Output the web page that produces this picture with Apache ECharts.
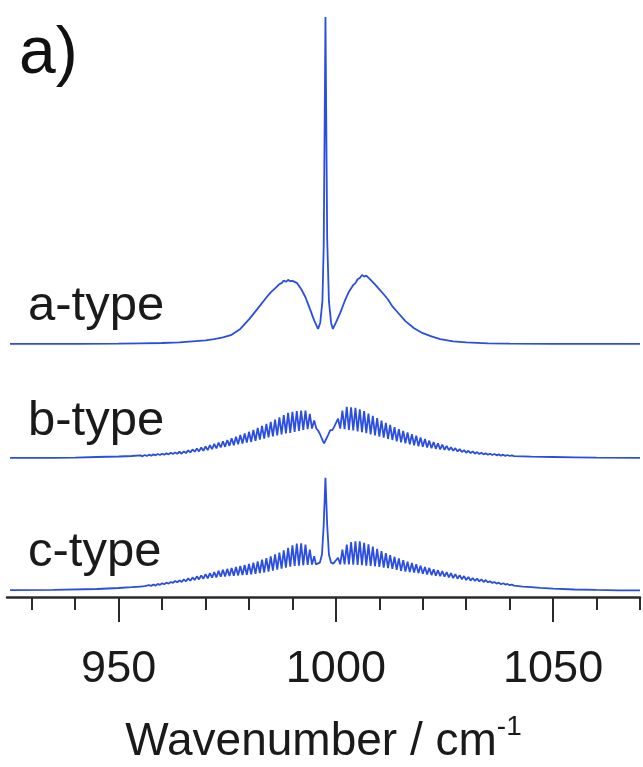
<!DOCTYPE html>
<html>
<head>
<meta charset="utf-8">
<script src="https://cdn.jsdelivr.net/npm/echarts@6/dist/echarts.min.js"></script>
<style>
html,body{margin:0;padding:0;background:#fff;}
#chart{width:643px;height:767px;}
</style>
</head>
<body>
<div id="chart"></div>
<script>
// ---- data: [wavenumber (cm-1), relative intensity] ----
const aType = [
  [925,0],[940,0],[950,0.1],[955,0.2],[960,0.3],[964,0.5],[967,0.8],[970,1.1],[972,1.5],[974,2.0],
  [976,2.8],[978,4.6],[980,7.5],[982,10.8],[984,14.2],[985,15.8],[986,17.0],[987,18.3],[987.5,18.6],[988,19.4],
  [988.5,19.0],[989,19.6],[989.5,19.2],[990,19.3],[991,18.7],[992,16.8],[993,14.3],[994,10.8],[995,7.2],[995.9,4.6],
  [996.4,6.5],[996.9,13],[997.2,30],[997.6,100],[998.0,32],[998.4,13],[998.9,6.5],[999.3,4.6],[1000,6.5],[1001,9.5],
  [1002,13],[1003,16],[1004,18],[1004.5,18.6],[1005,19.8],[1005.5,20.2],[1006,21.1],[1006.5,20.6],[1007,20.9],[1008,19.6],
  [1009,18.2],[1010,16.7],[1011,15.2],[1012,13.6],[1013,11.5],[1014,10],[1016,7],[1018,4.8],[1020,3.3],[1022,2.3],
  [1024,1.5],[1027,0.8],[1030,0.5],[1035,0.2],[1040,0.1],[1050,0],[1060,0],[1070,0]
];

const bType = [
  [925,0],[935,0.05],[940,0.1],[945,0.3],[950,0.45],[953,0.6],
  [955,0.8],[955.5,0.5],[956,0.9],[956.5,0.6],[957,1.0],[957.5,0.7],[958,1.1],[958.5,0.8],[959,1.2],[959.5,0.9],
  [960,1.3],[960.5,1.0],[961,1.4],[961.5,1.1],[962,1.6],[962.5,1.2],[963,1.7],[963.5,1.3],[964,1.9],[964.5,1.3],
  [965,2.0],[965.5,1.5],[966,2.3],[966.5,1.7],[967,2.6],[967.5,1.9],[968,2.9],[968.5,2.0],[969,3.2],[969.5,2.2],
  [970,3.5],[970.5,2.4],[971,3.9],[971.5,2.7],[972,4.3],[972.5,2.9],[973,4.7],[973.5,3.2],[974,5.1],[974.5,3.4],
  [975,5.5],[975.5,3.7],[976,6.0],[976.5,3.9],[977,6.5],[977.5,4.2],[978,7.0],[978.5,4.4],[979,7.5],[979.5,4.7],
  [980,8.0],[980.5,4.9],[981,8.6],[981.5,5.2],[982,9.2],[982.5,5.6],[983,9.8],[983.5,5.9],[984,10.4],[984.5,6.3],
  [985,11.0],[985.5,6.6],[986,11.7],[986.5,6.9],[987,12.4],[987.5,7.2],[988,13.1],[988.5,7.5],[989,13.8],[989.5,7.7],
  [990,14.1],[990.5,8.0],[991,14.3],[991.5,8.3],[992,14.5],[992.5,8.6],[993,14.5],[993.5,8.8],[994,13.5],[994.5,9.0],
  [995,11.5],[995.5,9.0],
  [996,8.2],[996.5,6.8],[997,5.2],[997.3,4.5],[997.7,5.0],[998.2,7.0],[998.7,8.5],[999.2,8.5],[999.6,9.5],
  [1000.5,12],[1001,9.0],[1001.5,14.5],[1002,8.8],[1002.5,15.6],[1003,8.6],[1003.5,15.5],[1004,8.4],[1004.5,15.3],[1005,8.1],
  [1005.5,14.9],[1006,7.9],[1006.5,14.3],[1007,7.6],[1007.5,13.6],[1008,7.2],[1008.5,12.9],[1009,6.9],[1009.5,12.2],[1010,6.5],
  [1010.5,11.4],[1011,6.2],[1011.5,10.7],[1012,5.8],[1012.5,10.1],[1013,5.5],[1013.5,9.4],[1014,5.1],[1014.5,8.8],[1015,4.8],
  [1015.5,8.3],[1016,4.5],[1016.5,7.8],[1017,4.2],[1017.5,7.3],[1018,3.9],[1018.5,6.8],[1019,3.6],[1019.5,6.3],[1020,3.4],
  [1020.5,5.8],[1021,3.2],[1021.5,5.3],[1022,3.0],[1022.5,4.9],[1023,2.8],[1023.5,4.5],[1024,2.6],[1024.5,4.1],[1025,2.5],
  [1025.5,3.7],[1026,2.4],[1026.5,3.3],[1027,2.2],[1027.5,3.0],[1028,2.0],[1028.5,2.7],[1029,1.8],[1029.5,2.4],[1030,1.6],
  [1030.5,2.2],[1031,1.5],[1031.5,2.0],[1032,1.3],[1032.5,1.8],[1033,1.2],[1033.5,1.6],[1034,1.1],[1034.5,1.4],[1035,1.0],
  [1035.5,1.3],[1036,0.9],[1036.5,1.2],[1037,0.8],[1037.5,1.1],[1038,0.7],[1038.5,1.0],[1039,0.65],[1039.5,0.9],[1040,0.6],
  [1040.5,0.8],[1041,0.55],
  [1045,0.4],[1050,0.3],[1055,0.2],[1060,0.1],[1070,0.05]
];

const cType = [
  [925,0.1],[935,0.2],[945,0.45],[950,0.75],[953,1.0],[955,1.2],[956,1.3],
  [957,1.6],[957.5,1.4],[958,1.8],[958.5,1.5],[959,2.0],[959.5,1.7],[960,2.2],[960.5,1.9],[961,2.4],[961.5,2.1],
  [962,2.6],[962.5,2.3],[963,2.9],[963.5,2.5],[964,3.1],[964.5,2.6],[965,3.4],[965.5,2.8],[966,3.7],[966.5,3.0],
  [967,4.0],[967.5,3.2],[968,4.3],[968.5,3.4],[969,4.6],[969.5,3.6],[970,5.0],[970.5,3.7],[971,5.3],[971.5,3.9],
  [972,5.6],[972.5,4.0],[973,6.0],[973.5,4.2],[974,6.3],[974.5,4.3],[975,6.6],[975.5,4.4],[976,6.9],[976.5,4.5],
  [977,7.2],[977.5,4.6],[978,7.5],[978.5,4.7],[979,7.8],[979.5,4.8],[980,8.1],[980.5,4.9],[981,8.5],[981.5,5.1],
  [982,8.9],[982.5,5.3],[983,9.4],[983.5,5.5],[984,9.9],[984.5,5.8],[985,10.4],[985.5,6.1],[986,11.0],[986.5,6.4],
  [987,11.6],[987.5,6.7],[988,12.3],[988.5,7.0],[989,13.0],[989.5,7.3],[990,13.8],[990.5,7.5],[991,14.3],[991.5,7.6],
  [992,14.4],[992.5,7.7],[993,14.0],[993.5,7.8],[994,12.5],[994.5,7.9],[995,10.5],
  [995.4,8.0],[995.8,8.0],[996.3,8.5],[996.8,11],[997.2,20],[997.6,34.5],[998.0,20],[998.4,11],[998.9,8.5],[999.4,8.2],[999.8,8.3],
  [1000.5,10],[1001,8.0],[1001.5,12.5],[1002,8.0],[1002.5,14],[1003,8.0],[1003.5,14.8],[1004,7.9],[1004.5,15.0],[1005,7.8],
  [1005.5,15.0],[1006,7.7],[1006.5,14.6],[1007,7.6],[1007.5,14.1],[1008,7.5],[1008.5,13.4],[1009,7.4],[1009.5,12.7],[1010,7.2],
  [1010.5,12.0],[1011,7.0],[1011.5,11.4],[1012,6.8],[1012.5,10.8],[1013,6.6],[1013.5,10.3],[1014,6.3],[1014.5,9.8],[1015,6.0],
  [1015.5,9.3],[1016,5.8],[1016.5,8.8],[1017,5.6],[1017.5,8.4],[1018,5.5],[1018.5,8.0],[1019,5.3],[1019.5,7.6],[1020,5.1],
  [1020.5,7.2],[1021,4.9],[1021.5,6.9],[1022,4.7],[1022.5,6.5],[1023,4.5],[1023.5,6.2],[1024,4.4],[1024.5,5.9],[1025,4.2],
  [1025.5,5.6],[1026,4.0],[1026.5,5.3],[1027,3.8],[1027.5,5.0],[1028,3.6],[1028.5,4.7],[1029,3.4],[1029.5,4.4],[1030,3.2],
  [1030.5,4.1],[1031,3.0],[1031.5,3.8],[1032,2.9],[1032.5,3.6],[1033,2.8],[1033.5,3.4],[1034,2.6],[1034.5,3.2],[1035,2.5],
  [1035.5,2.8],[1036,2.3],[1036.5,2.6],[1037,2.1],[1037.5,2.4],[1038,1.9],[1038.5,2.2],[1039,1.8],[1039.5,2.0],[1040,1.6],
  [1040.5,1.8],[1041,1.5],
  [1043,1.2],[1045,1.0],[1047,0.8],[1050,0.55],[1055,0.3],[1060,0.15],[1065,0.05],[1070,0]
];

const seriesNames = ['a-type', 'b-type', 'c-type'];
const majorTicks = [950, 1000, 1050];
const minorTicks = [930, 940, 960, 970, 980, 990, 1010, 1020, 1030, 1040, 1060, 1070];
const panelLabel = 'a)';
const axisTitle = 'Wavenumber / cm';
const axisTitleSup = '-1';

// ---- layout ----
const FONT = '"Liberation Sans", Arial, Helvetica, sans-serif';
const LINE = '#2a4de2';
const AXIS = '#2a2a2a';
const X_MIN = 924.3, X_MAX = 1070;
const Y_MIN = -2, Y_MAX = 100;
const GRID_H = 333.5;
const gridBottoms = [350.5, 464.5, 597]; // pixel y of each panel's bottom
const chart = echarts.init(document.getElementById('chart'), null, {renderer: 'canvas'});

const grids = gridBottoms.map(b => ({left: 7, right: 3, top: b - GRID_H, height: GRID_H, containLabel: false}));
const hiddenX = i => ({gridIndex: i, type: 'value', min: X_MIN, max: X_MAX, show: false});
const xAxes = [
  hiddenX(0), hiddenX(1),
  {
    gridIndex: 2, type: 'value', min: X_MIN, max: X_MAX, position: 'bottom', offset: 0,
    axisLine: {show: true, onZero: false, lineStyle: {color: AXIS, width: 2.5}},
    axisTick: {show: true, customValues: majorTicks, length: 25, inside: false, lineStyle: {color: AXIS, width: 2}},
    axisLabel: {show: true, customValues: majorTicks, margin: 50, color: '#1a1a1a', fontSize: 45, fontFamily: FONT,
      formatter: v => String(v)},
    splitLine: {show: false},
    name: '{m|' + axisTitle + '}{s|' + axisTitleSup + '}',
    nameLocation: 'middle', nameGap: 116,
    nameTextStyle: {
      rich: {
        m: {fontSize: 46, fontFamily: FONT, color: '#1a1a1a', lineHeight: 52, verticalAlign: 'bottom'},
        s: {fontSize: 28, fontFamily: FONT, color: '#1a1a1a', lineHeight: 28, verticalAlign: 'top'}
      }
    }
  },
  {
    gridIndex: 2, type: 'value', min: X_MIN, max: X_MAX, position: 'bottom', offset: 0,
    axisLine: {show: false, onZero: false},
    axisTick: {show: true, customValues: minorTicks, length: 13, lineStyle: {color: AXIS, width: 2}},
    axisLabel: {show: false},
    splitLine: {show: false}
  }
];
const yAxes = [0, 1, 2].map(i => ({gridIndex: i, type: 'value', min: Y_MIN, max: Y_MAX, show: false}));

const datasets = [aType, bType, cType];
const series = datasets.map((d, i) => ({
  name: seriesNames[i], type: 'line', xAxisIndex: i, yAxisIndex: i, data: d,
  showSymbol: false, symbol: 'none', smooth: false,
  lineStyle: {color: LINE, width: 1.8}, animation: false, silent: true
}));

// labels placed just above each spectrum's baseline
const labelTop = [282, 397, 528];
const graphics = [
  {type: 'text', left: 19, top: 22, style: {text: panelLabel, font: '66px ' + FONT, fill: '#111'}},
].concat(seriesNames.map((n, i) => ({
  type: 'text', left: 28, top: labelTop[i],
  style: {text: n, font: '49px ' + FONT, fill: '#1a1a1a'}
})));

chart.setOption({
  animation: false,
  backgroundColor: '#ffffff',
  grid: grids,
  xAxis: xAxes,
  yAxis: yAxes,
  series: series,
  graphic: graphics
});
</script>
</body>
</html>
